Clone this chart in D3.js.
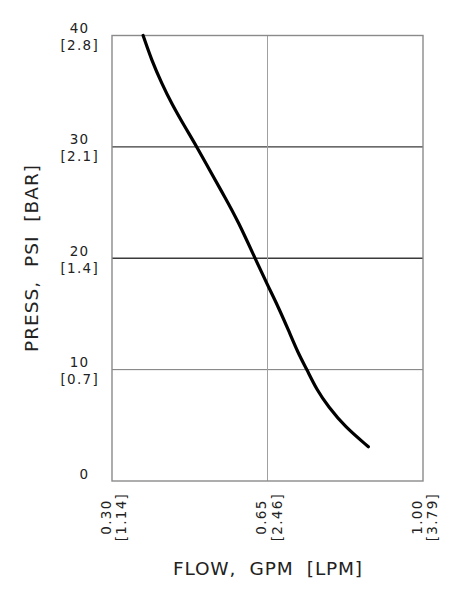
<!DOCTYPE html>
<html>
<head>
<meta charset="utf-8">
<script src="https://cdn.jsdelivr.net/npm/d3@7"></script>
<style>
  html, body { margin: 0; padding: 0; background: #fff; }
  svg { display: block; }
  text { font-family: "DejaVu Sans", "Liberation Sans", sans-serif; fill: #222; }
</style>
</head>
<body>
<svg id="chart" width="460" height="600"></svg>
<script>
// ---- data ----
const flowTicks = [0.30, 0.65, 1.00];
const flowTickLabels = ["0.30", "0.65", "1.00"];
const flowLpmLabels = ["[1.14]", "[2.46]", "[3.79]"];
const pressTicks = [0, 10, 20, 30, 40];
const pressTickLabels = ["0", "10", "20", "30", "40"];
const pressBarLabels = ["", "[0.7]", "[1.4]", "[2.1]", "[2.8]"];
const curveFlow  = [0.370, 0.389, 0.412, 0.434, 0.464, 0.491, 0.524, 0.554, 0.584, 0.622, 0.650, 0.674, 0.697, 0.719, 0.738, 0.761, 0.787, 0.824, 0.877];
const curvePress = [40.0, 37.8, 35.7, 33.9, 31.8, 30.0, 27.6, 25.5, 23.3, 20.0, 17.6, 15.65, 13.56, 11.47, 10.06, 8.17, 6.67, 4.88, 3.08];
const xTitle = "FLOW,  GPM  [LPM]";
const yTitle = "PRESS,  PSI  [BAR]";

// ---- layout ----
const svg = d3.select("#chart");
const plot = { left: 112, right: 423, top: 35.5, bottom: 481 };
const x = d3.scaleLinear().domain([0.30, 1.00]).range([plot.left, plot.right]);
const y = d3.scaleLinear().domain([0, 40]).range([plot.bottom, plot.top]);

// grid lines
const hGridColor = { 10: "#7a7a7a", 20: "#3a3a3a", 30: "#3a3a3a" };
svg.append("g").selectAll("line")
  .data(pressTicks.filter(d => d > 0 && d < 40))
  .join("line")
  .attr("x1", plot.left).attr("x2", plot.right)
  .attr("y1", d => y(d)).attr("y2", d => y(d))
  .attr("stroke", d => hGridColor[d])
  .attr("stroke-width", d => d === 10 ? 1 : 1.3);

svg.append("g").selectAll("line")
  .data(flowTicks.filter(d => d > 0.30 && d < 1.00))
  .join("line")
  .attr("x1", d => x(d)).attr("x2", d => x(d))
  .attr("y1", plot.top).attr("y2", plot.bottom)
  .attr("stroke", "#a0a0a0")
  .attr("stroke-width", 1);

// frame
svg.append("rect")
  .attr("x", plot.left).attr("y", plot.top)
  .attr("width", plot.right - plot.left).attr("height", plot.bottom - plot.top)
  .attr("fill", "none").attr("stroke", "#8a8a8a").attr("stroke-width", 1.4);

// ---- y axis labels ----
const yAxis = d3.axisLeft(y).tickValues(pressTicks).tickSize(0).tickFormat("");
const gy = svg.append("g").attr("transform", `translate(${plot.left},0)`).call(yAxis);
gy.select(".domain").remove();
gy.selectAll(".tick").each(function(d, i) {
  const t = d3.select(this);
  t.select("text").remove();
  t.append("text")
    .attr("x", -23).attr("y", -3)
    .attr("text-anchor", "end")
    .style("font-size", "13.5px").style("letter-spacing", "1px")
    .text(pressTickLabels[i]);
  if (pressBarLabels[i]) {
    t.append("text")
      .attr("x", -13).attr("y", 14)
      .attr("text-anchor", "end")
      .style("font-size", "13.5px").style("letter-spacing", "1.3px")
      .text(pressBarLabels[i]);
  }
});

// ---- x axis labels ----
const xAxis = d3.axisBottom(x).tickValues(flowTicks).tickSize(0).tickFormat("");
const gx = svg.append("g").attr("transform", `translate(0,${plot.bottom})`).call(xAxis);
gx.select(".domain").remove();
gx.selectAll(".tick").each(function(d, i) {
  const t = d3.select(this);
  t.select("text").remove();
  const g = t.append("g").attr("transform", "translate(0,36) rotate(-90)");
  g.append("text")
    .attr("x", 0).attr("y", -2)
    .attr("text-anchor", "middle")
    .style("font-size", "13.5px").style("letter-spacing", "1.3px")
    .text(flowTickLabels[i]);
  g.append("text")
    .attr("x", 0).attr("y", 13.5)
    .attr("text-anchor", "middle")
    .style("font-size", "13.5px").style("letter-spacing", "1.3px")
    .text(flowLpmLabels[i]);
});

// ---- titles ----
svg.append("text")
  .attr("x", x(0.65)).attr("y", 575)
  .attr("text-anchor", "middle")
  .attr("textLength", 189).attr("lengthAdjust", "spacing")
  .style("font-size", "18.5px").style("white-space", "pre")
  .text(xTitle);

svg.append("text")
  .attr("transform", "translate(38,258.5) rotate(-90)")
  .attr("text-anchor", "middle")
  .attr("textLength", 187).attr("lengthAdjust", "spacing")
  .style("font-size", "18.5px").style("white-space", "pre")
  .text(yTitle);

// ---- curve ----
const pts = curveFlow.map((f, i) => [f, curvePress[i]]);
const line = d3.line().x(d => x(d[0])).y(d => y(d[1])).curve(d3.curveBasis);
svg.append("path")
  .datum(pts)
  .attr("d", line)
  .attr("fill", "none")
  .attr("stroke", "#000")
  .attr("stroke-width", 3.2)
  .attr("stroke-linecap", "round")
  .attr("stroke-linejoin", "round");
</script>
</body>
</html>
